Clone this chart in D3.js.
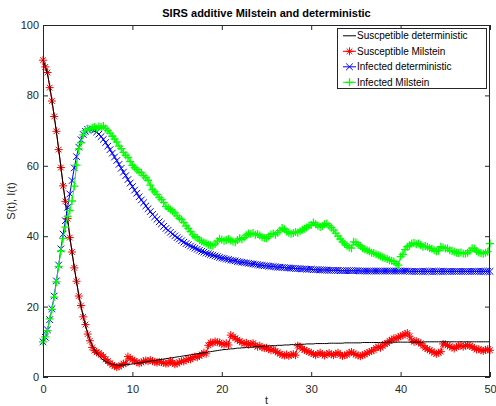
<!DOCTYPE html>
<html>
<head>
<meta charset="utf-8">
<script src="https://cdn.jsdelivr.net/npm/d3@7"></script>
<style>
  html, body { margin: 0; padding: 0; background: #fff; }
  svg { display: block; font-family: "Liberation Sans", Arial, Helvetica, sans-serif; }
</style>
</head>
<body>
<svg id="chart" width="496" height="406"></svg>
<script>
// Sampling interval of the simulated paths (time units)
const timeStep = 0.25;

// Susceptible, deterministic ODE solution (one row = 5 time units)
const susceptibleDet = [
  90.0, 88.4, 86.1, 82.8, 78.6, 74.2, 69.5, 64.8, 59.8, 54.7, 49.7, 44.8, 40.0, 35.4, 31.1, 27.1, 23.4, 20.1, 17.2, 14.6,
  12.4, 10.6, 9.1, 7.8, 6.8, 6.0, 5.3, 4.8, 4.4, 4.1, 3.8, 3.6, 3.5, 3.4, 3.4, 3.4, 3.4, 3.5, 3.5, 3.6,
  3.7, 3.8, 3.9, 4.0, 4.1, 4.2, 4.3, 4.4, 4.5, 4.6, 4.7, 4.8, 4.9, 5.0, 5.1, 5.2, 5.3, 5.4, 5.5, 5.6,
  5.7, 5.8, 5.9, 6.0, 6.1, 6.2, 6.3, 6.4, 6.5, 6.6, 6.7, 6.8, 6.9, 7.0, 7.1, 7.2, 7.3, 7.4, 7.5, 7.6,
  7.7, 7.8, 7.8, 7.9, 8.0, 8.0, 8.1, 8.2, 8.2, 8.3, 8.3, 8.4, 8.4, 8.5, 8.5, 8.6, 8.6, 8.7, 8.7, 8.8,
  8.8, 8.8, 8.9, 8.9, 8.9, 9.0, 9.0, 9.0, 9.1, 9.1, 9.1, 9.2, 9.2, 9.2, 9.3, 9.3, 9.3, 9.3, 9.4, 9.4,
  9.4, 9.4, 9.5, 9.5, 9.5, 9.5, 9.5, 9.5, 9.6, 9.6, 9.6, 9.6, 9.6, 9.6, 9.6, 9.7, 9.7, 9.7, 9.7, 9.7,
  9.7, 9.7, 9.7, 9.8, 9.8, 9.8, 9.8, 9.8, 9.8, 9.8, 9.8, 9.8, 9.8, 9.9, 9.9, 9.9, 9.9, 9.9, 9.9, 9.9,
  9.9, 9.9, 9.9, 9.9, 9.9, 9.9, 9.9, 9.9, 9.9, 9.9, 9.9, 10.0, 10.0, 10.0, 10.0, 10.0, 10.0, 10.0, 10.0, 10.0,
  10.0, 10.0, 10.0, 10.0, 10.0, 10.0, 10.0, 10.0, 10.0, 10.0, 10.0, 10.0, 10.0, 10.0, 10.0, 10.0, 10.0, 10.0, 10.0, 10.0,
  10.0
];

// Susceptible, additive-noise Milstein path
const susceptibleMil = [
  90.0, 88.1, 86.5, 82.2, 78.4, 74.0, 69.8, 64.6, 59.5, 54.3, 49.9, 45.0, 39.6, 35.5, 31.0, 27.2, 23.0, 20.3, 17.1, 14.9,
  12.2, 10.3, 8.4, 7.5, 7.0, 6.8, 6.3, 5.8, 5.0, 4.5, 3.9, 3.5, 3.1, 2.8, 3.0, 3.3, 3.8, 3.9, 5.8, 5.3,
  4.9, 4.6, 4.2, 3.9, 4.1, 4.5, 4.7, 4.5, 4.8, 4.5, 4.3, 4.1, 4.3, 4.2, 4.0, 3.8, 3.9, 4.6, 4.1, 3.6,
  3.8, 4.2, 4.5, 4.4, 4.8, 5.1, 5.0, 5.5, 5.8, 5.6, 6.0, 6.4, 6.9, 6.6, 9.0, 9.8, 9.6, 10.1, 9.9, 9.8,
  9.4, 9.2, 9.6, 9.1, 11.9, 11.5, 11.0, 10.6, 10.2, 9.8, 9.5, 9.7, 9.2, 9.4, 9.6, 9.0, 8.6, 8.9, 8.4, 8.2,
  8.3, 7.9, 7.6, 7.9, 7.3, 7.0, 6.6, 6.3, 6.1, 6.4, 6.0, 6.3, 6.5, 6.2, 8.9, 8.6, 8.0, 7.7, 7.4, 7.1,
  6.9, 6.5, 6.2, 6.6, 6.9, 6.4, 6.1, 6.5, 6.8, 6.4, 6.2, 6.6, 6.9, 6.3, 6.0, 6.2, 6.3, 6.9, 7.1, 6.7,
  6.4, 6.1, 5.9, 6.2, 6.4, 6.8, 7.1, 7.4, 7.6, 8.3, 8.5, 8.3, 8.8, 9.4, 9.6, 10.3, 10.5, 11.0, 10.9, 11.3,
  11.6, 11.8, 12.2, 12.5, 11.6, 10.5, 10.0, 10.2, 9.8, 9.6, 8.9, 8.3, 7.9, 7.6, 7.3, 6.9, 6.6, 6.9, 7.2, 9.4,
  9.3, 9.0, 8.7, 8.4, 8.1, 8.5, 8.8, 9.0, 8.6, 8.9, 9.1, 8.8, 8.6, 8.2, 7.8, 7.9, 7.6, 7.4, 7.7, 7.9,
  7.6
];

// Infected, deterministic ODE solution
const infectedDet = [
  10.0, 11.3, 13.4, 16.3, 19.4, 23.0, 27.3, 31.8, 36.4, 40.6, 44.4, 48.2, 52.0, 55.8, 59.4, 62.6, 65.3, 67.4, 68.9, 69.8,
  70.3, 70.5, 70.4, 70.1, 69.6, 69.0, 68.3, 67.5, 66.6, 65.6, 64.6, 63.6, 62.5, 61.5, 60.4, 59.3, 58.2, 57.2, 56.1, 55.1,
  54.1, 53.1, 52.2, 51.2, 50.3, 49.5, 48.6, 47.8, 47.0, 46.2, 45.5, 44.8, 44.1, 43.5, 42.8, 42.2, 41.7, 41.1, 40.6, 40.1,
  39.6, 39.2, 38.7, 38.3, 37.9, 37.6, 37.2, 36.9, 36.6, 36.3, 36.0, 35.7, 35.5, 35.2, 35.0, 34.8, 34.6, 34.4, 34.2, 34.0,
  33.8, 33.7, 33.5, 33.4, 33.2, 33.1, 33.0, 32.8, 32.7, 32.6, 32.5, 32.4, 32.3, 32.2, 32.1, 32.0, 31.9, 31.8, 31.7, 31.6,
  31.6, 31.5, 31.4, 31.4, 31.3, 31.2, 31.2, 31.1, 31.1, 31.0, 31.0, 30.9, 30.9, 30.8, 30.8, 30.8, 30.7, 30.7, 30.6, 30.6,
  30.6, 30.5, 30.5, 30.5, 30.4, 30.4, 30.4, 30.4, 30.3, 30.3, 30.3, 30.3, 30.3, 30.2, 30.2, 30.2, 30.2, 30.2, 30.2, 30.2,
  30.2, 30.2, 30.1, 30.1, 30.1, 30.1, 30.1, 30.1, 30.1, 30.1, 30.1, 30.1, 30.1, 30.1, 30.1, 30.1, 30.1, 30.1, 30.1, 30.1,
  30.1, 30.1, 30.1, 30.1, 30.0, 30.0, 30.0, 30.0, 30.0, 30.0, 30.0, 30.0, 30.0, 30.0, 30.0, 30.0, 30.0, 30.0, 30.0, 30.0,
  30.0, 30.0, 30.0, 30.0, 30.0, 30.0, 30.0, 30.0, 30.0, 30.0, 30.0, 30.0, 30.0, 30.0, 30.0, 30.0, 30.0, 30.0, 30.0, 30.0,
  30.0
];

// Infected, additive-noise Milstein path
const infectedMil = [
  10.0, 11.4, 13.2, 16.5, 19.2, 22.7, 27.0, 31.4, 35.8, 39.4, 42.6, 45.6, 47.3, 50.0, 54.2, 60.2, 64.8, 66.5, 68.8, 70.0,
  70.5, 70.4, 70.8, 71.0, 70.6, 71.2, 71.0, 71.3, 70.6, 70.0, 69.3, 68.4, 67.6, 66.8, 65.6, 64.9, 63.8, 63.0, 62.4, 61.2,
  60.1, 59.5, 58.9, 58.3, 58.0, 57.2, 56.6, 55.9, 54.5, 53.2, 52.6, 51.9, 51.0, 50.4, 49.6, 48.5, 48.0, 47.6, 47.1, 46.6,
  45.8, 45.1, 44.7, 43.9, 42.9, 42.2, 41.3, 40.4, 39.9, 39.5, 38.9, 38.6, 38.2, 37.9, 37.6, 37.4, 37.3, 37.8, 38.6, 39.3,
  39.0, 38.7, 38.9, 39.2, 38.8, 38.5, 38.3, 38.9, 39.4, 39.1, 39.6, 40.3, 40.8, 40.6, 40.9, 40.4, 40.6, 40.2, 39.7, 39.5,
  39.4, 39.9, 40.5, 40.8, 40.4, 41.0, 41.6, 42.3, 42.0, 41.3, 41.0, 40.7, 40.9, 41.2, 41.0, 41.4, 41.8, 42.1, 42.5, 43.0,
  43.2, 43.9, 43.4, 43.0, 42.6, 42.9, 43.4, 43.6, 43.0, 42.4, 41.7, 40.9, 40.0, 39.2, 38.4, 37.8, 37.3, 36.8, 36.6, 38.4,
  38.2, 37.6, 37.2, 36.6, 36.3, 36.0, 35.7, 35.3, 35.2, 34.9, 34.6, 34.3, 34.0, 33.8, 33.5, 33.2, 33.0, 32.8, 32.2, 31.8,
  34.2, 34.8, 36.2, 37.0, 37.4, 37.9, 38.1, 37.7, 37.9, 37.5, 37.0, 37.2, 37.0, 36.6, 36.4, 36.0, 35.7, 35.9, 37.0, 36.8,
  36.5, 36.6, 36.0, 35.8, 35.6, 35.3, 35.2, 35.4, 35.1, 35.0, 35.3, 35.9, 36.6, 36.4, 35.8, 35.4, 35.2, 35.0, 35.3, 35.6,
  37.9
];

const xTicks = [0, 10, 20, 30, 40, 50];
const yTicks = [0, 20, 40, 60, 80, 100];
const legendLabels = [
  "Suscpetible deterministic",
  "Susceptible Milstein",
  "Infected deterministic",
  "Infected Milstein"
];
const titleText = "SIRS additive Milstein and deterministic";
const xLabelText = "t";
const yLabelText = "S(t), I(t)";

// ---- layout ----
const plot = { left: 43, right: 490, top: 25, bottom: 377 };
const axisColor = "#262626";

const svg = d3.select("#chart");

const x = d3.scaleLinear().domain([0, 50]).range([plot.left, plot.right]);
const y = d3.scaleLinear().domain([0, 100]).range([plot.bottom, plot.top]);

const time = susceptibleDet.map((_, i) => i * timeStep);

// marker shapes, drawn as stroked path segments
function starMarker(r) {
  const d = r * 0.7071;
  return (cx, cy) =>
    `M${cx - r},${cy}H${cx + r}M${cx},${cy - r}V${cy + r}` +
    `M${cx - d},${cy - d}L${cx + d},${cy + d}M${cx - d},${cy + d}L${cx + d},${cy - d}`;
}
function crossMarker(r) {
  return (cx, cy) =>
    `M${cx - r},${cy - r}L${cx + r},${cy + r}M${cx - r},${cy + r}L${cx + r},${cy - r}`;
}
function plusMarker(r) {
  return (cx, cy) => `M${cx - r},${cy}H${cx + r}M${cx},${cy - r}V${cy + r}`;
}

const series = [
  { values: susceptibleMil, color: "#ff0000", marker: starMarker(4), width: 1 },
  { values: susceptibleDet, color: "#000000", marker: null, width: 1 },
  { values: infectedDet, color: "#0000ff", marker: crossMarker(3.3), width: 1 },
  { values: infectedMil, color: "#00ff00", marker: plusMarker(4), width: 1.3 }
];
const legendSeries = [series[1], series[0], series[2], series[3]];

const line = d3.line().x((d, i) => x(time[i])).y(d => y(d));

const gData = svg.append("g");
series.forEach(s => {
  gData.append("path")
    .attr("d", line(s.values))
    .attr("fill", "none")
    .attr("stroke", s.color)
    .attr("stroke-width", 1);
  if (s.marker) {
    const d = s.values.map((v, i) => s.marker(x(time[i]), y(v))).join("");
    gData.append("path")
      .attr("d", d)
      .attr("fill", "none")
      .attr("stroke", s.color)
      .attr("stroke-width", s.width);
  }
});

// ---- axes box and ticks ----
const gAxes = svg.append("g");
function styleAxis(g) {
  g.select(".domain").remove();
  g.selectAll(".tick line").attr("stroke", axisColor);
  g.selectAll(".tick text")
    .attr("fill", axisColor)
    .style("font-size", "11px")
    .style("font-family", '"Liberation Sans", Arial, Helvetica, sans-serif');
}

gAxes.append("g")
  .attr("transform", `translate(0,${plot.bottom})`)
  .call(d3.axisBottom(x).tickValues(xTicks).tickSizeInner(-5).tickSizeOuter(0).tickPadding(8))
  .call(styleAxis);
gAxes.append("g")
  .attr("transform", `translate(0,${plot.top})`)
  .call(d3.axisTop(x).tickValues(xTicks).tickSizeInner(-5).tickSizeOuter(0).tickFormat(""))
  .call(styleAxis);
gAxes.append("g")
  .attr("transform", `translate(${plot.left},0)`)
  .call(d3.axisLeft(y).tickValues(yTicks).tickSizeInner(-5).tickSizeOuter(0).tickPadding(4))
  .call(styleAxis);
gAxes.append("g")
  .attr("transform", `translate(${plot.right},0)`)
  .call(d3.axisRight(y).tickValues(yTicks).tickSizeInner(-5).tickSizeOuter(0).tickFormat(""))
  .call(styleAxis);

gAxes.append("rect")
  .attr("x", plot.left + 0.5)
  .attr("y", plot.top + 0.5)
  .attr("width", plot.right - plot.left - 1)
  .attr("height", plot.bottom - plot.top - 1)
  .attr("fill", "none")
  .attr("stroke", axisColor)
  .attr("stroke-width", 1);

// ---- title and axis labels ----
svg.append("text")
  .attr("x", (plot.left + plot.right) / 2)
  .attr("y", 17)
  .attr("text-anchor", "middle")
  .attr("font-size", 11)
  .attr("font-weight", "bold")
  .attr("fill", "#000")
  .text(titleText);

svg.append("text")
  .attr("x", (plot.left + plot.right) / 2)
  .attr("y", 404)
  .attr("text-anchor", "middle")
  .attr("font-size", 11)
  .attr("fill", axisColor)
  .text(xLabelText);

svg.append("text")
  .attr("transform", `translate(15,${(plot.top + plot.bottom) / 2}) rotate(-90)`)
  .attr("text-anchor", "middle")
  .attr("font-size", 11)
  .attr("fill", axisColor)
  .text(yLabelText);

// ---- legend ----
const legend = { x: 337, y: 28, w: 149, h: 60, rowH: 15.5, first: 35.8 };
const gLeg = svg.append("g");
gLeg.append("rect")
  .attr("x", legend.x + 0.5)
  .attr("y", legend.y + 0.5)
  .attr("width", legend.w)
  .attr("height", legend.h)
  .attr("fill", "#fff")
  .attr("stroke", axisColor)
  .attr("stroke-width", 1);

legendLabels.forEach((label, i) => {
  const s = legendSeries[i];
  const cy = legend.first + i * legend.rowH;
  gLeg.append("line")
    .attr("x1", legend.x + 6).attr("x2", legend.x + 19)
    .attr("y1", cy).attr("y2", cy)
    .attr("stroke", s.color)
    .attr("stroke-width", 1);
  if (s.marker) {
    gLeg.append("path")
      .attr("d", s.marker(legend.x + 12.5, cy))
      .attr("fill", "none")
      .attr("stroke", s.color)
      .attr("stroke-width", s.width);
  }
  gLeg.append("text")
    .attr("x", legend.x + 20)
    .attr("y", cy)
    .attr("dy", "0.35em")
    .attr("font-size", 10)
    .attr("fill", "#000")
    .text(label);
});
</script>
</body>
</html>
